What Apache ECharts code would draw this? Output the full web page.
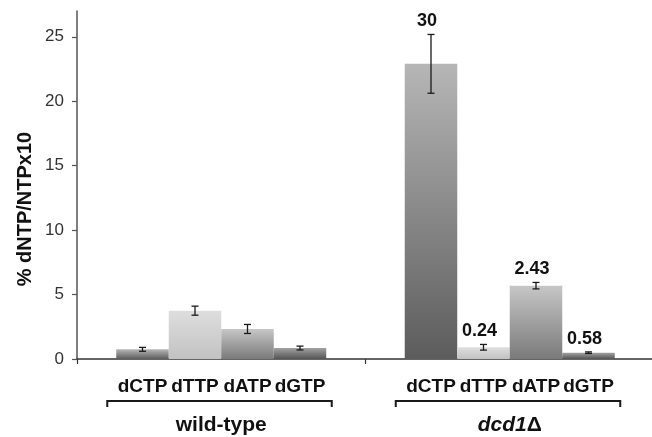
<!DOCTYPE html>
<html>
<head>
<meta charset="utf-8">
<style>
html,body{margin:0;padding:0;background:#fff;}
#chart{width:652px;height:437px;}
</style>
<script src="https://cdn.jsdelivr.net/npm/echarts@6/dist/echarts.min.js"></script>
</head>
<body>
<div id="chart"></div>
<script>
// ---- data ----
const groups = ['wild-type', 'dcd1Δ'];
const nucleotides = ['dCTP', 'dTTP', 'dATP', 'dGTP'];
const dCTP = [0.75, 22.9];
const dTTP = [3.75, 0.91];
const dATP = [2.33, 5.69];
const dGTP = [0.85, 0.49];
const dCTPErr = [0.15, 2.28];
const dTTPErr = [0.35, 0.22];
const dATPErr = [0.35, 0.25];
const dGTPErr = [0.15, 0.06];
const dcd1Labels = ['30', '0.24', '2.43', '0.58'];
const yTicks = [0, 5, 10, 15, 20, 25];
const yTitle = '% dNTP/NTPx10';

// ---- styling ----
const FONT = "'Liberation Sans', Arial, sans-serif";
const BAR_W = 52.5;
const gradients = [
  ['#b6b6b6', '#5c5c5c'],
  ['#dedede', '#c2c2c2'],
  ['#c6c6c6', '#7a7a7a'],
  ['#a2a2a2', '#545454']
];
const values = [dCTP, dTTP, dATP, dGTP];
const errs = [dCTPErr, dTTPErr, dATPErr, dGTPErr];

const barSeries = nucleotides.map((n, i) => ({
  type: 'bar',
  name: n,
  data: values[i],
  barWidth: BAR_W,
  barGap: '0%',
  itemStyle: {
    color: new echarts.graphic.LinearGradient(0, 0, 0, 1, [
      {offset: 0, color: gradients[i][0]},
      {offset: 1, color: gradients[i][1]}
    ])
  },
  label: {
    show: true,
    position: 'bottom',
    distance: 18,
    formatter: n,
    fontFamily: FONT,
    fontWeight: 'bold',
    fontSize: 19,
    color: '#111'
  },
  emphasis: {disabled: true},
  z: 2
}));

const errData = [];
groups.forEach((g, gi) => {
  nucleotides.forEach((n, ni) => {
    errData.push([gi, ni, values[ni][gi], errs[ni][gi], gi === 1 ? dcd1Labels[ni] : '']);
  });
});

const errSeries = {
  type: 'custom',
  data: errData,
  clip: false,
  z: 5,
  silent: true,
  renderItem: function (params, api) {
    const gi = api.value(0), ni = api.value(1), v = api.value(2), e = api.value(3);
    const label = errData[params.dataIndex][4];
    const cx = api.coord([gi, 0])[0] + (ni - 1.5) * BAR_W;
    const yTop = api.coord([gi, v + e])[1];
    const yBot = api.coord([gi, v - e])[1];
    const cap = 3.5;
    const children = [
      {type: 'line', shape: {x1: cx, y1: yTop, x2: cx, y2: yBot}, style: {stroke: '#1a1a1a', lineWidth: 1.3}},
      {type: 'line', shape: {x1: cx - cap, y1: yTop, x2: cx + cap, y2: yTop}, style: {stroke: '#1a1a1a', lineWidth: 1.3}},
      {type: 'line', shape: {x1: cx - cap, y1: yBot, x2: cx + cap, y2: yBot}, style: {stroke: '#1a1a1a', lineWidth: 1.3}}
    ];
    if (label) {
      children.push({
        type: 'text',
        x: cx - 4, y: yTop - 4,
        style: {text: label, fill: '#111', font: 'bold 18px ' + FONT, textAlign: 'center', textVerticalAlign: 'bottom'}
      });
    }
    return {type: 'group', children: children};
  }
};

const bracketSeries = {
  type: 'custom',
  data: groups.map((g, i) => [i]),
  clip: false,
  silent: true,
  z: 5,
  renderItem: function (params, api) {
    const gi = api.value(0);
    const base = api.coord([gi, 0]);
    const left = base[0] - 2 * BAR_W - 9;
    const right = base[0] + 2 * BAR_W + 5.5;
    const y = base[1] + 42;
    return {
      type: 'polyline',
      shape: {points: [[left, y + 6], [left, y], [right, y], [right, y + 6]]},
      style: {stroke: '#1a1a1a', lineWidth: 2, fill: null}
    };
  }
};

const chart = echarts.init(document.getElementById('chart'), null, {renderer: 'canvas'});
chart.setOption({
  animation: false,
  backgroundColor: '#fff',
  grid: {left: 77, right: -2, top: 11, bottom: 78, outerBoundsMode: 'none'},
  xAxis: {
    type: 'category',
    data: groups,
    axisLine: {lineStyle: {color: '#333', width: 1.5}},
    axisTick: {show: true, length: 5, interval: 0, lineStyle: {color: '#333', width: 1.2}},
    axisLabel: {
      margin: 56,
      interval: 0,
      formatter: function (v) {
        if (v === 'dcd1Δ') return '{i|dcd1}{n|Δ}';
        return '{n|' + v + '}';
      },
      rich: {
        i: {fontFamily: FONT, fontWeight: 'bold', fontStyle: 'italic', fontSize: 21, color: '#111'},
        n: {fontFamily: FONT, fontWeight: 'bold', fontSize: 21, color: '#111'}
      }
    },
    splitLine: {show: false}
  },
  yAxis: {
    type: 'value',
    min: 0,
    max: 27,
    interval: 5,
    axisLine: {show: true, lineStyle: {color: '#555', width: 1.5}},
    axisTick: {show: true, length: 5, customValues: yTicks, lineStyle: {color: '#555', width: 1.2}},
    axisLabel: {customValues: yTicks, margin: 13, fontFamily: FONT, fontSize: 17, color: '#333'},
    splitLine: {show: false}
  },
  graphic: [{
    type: 'text',
    x: 25, y: 209,
    rotation: Math.PI / 2,
    style: {text: yTitle, font: 'bold 20px ' + FONT, fill: '#111', textAlign: 'center', textVerticalAlign: 'middle'}
  }],
  series: barSeries.concat([errSeries, bracketSeries])
});
</script>
</body>
</html>
